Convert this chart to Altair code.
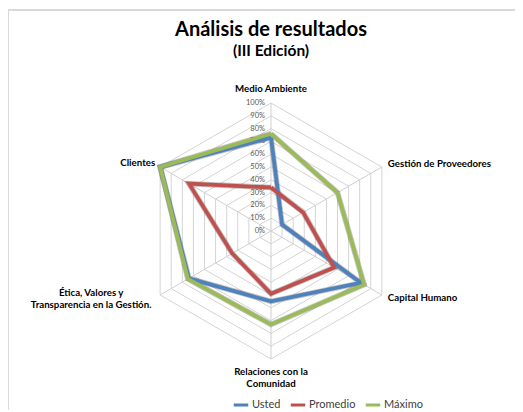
import altair as alt
import pandas as pd

categories = [
    "Medio Ambiente",
    "Gestión de Proveedores",
    "Capital Humano",
    "Relaciones con la\nComunidad",
    "Ética, Valores y\nTransparencia en la Gestión.",
    "Clientes",
]
series_names = ["Usted", "Promedio", "Máximo"]
usted = [0.73, 0.10, 0.81, 0.55, 0.74, 1.00]
promedio = [0.34, 0.29, 0.57, 0.49, 0.35, 0.74]
maximo = [0.76, 0.60, 0.84, 0.73, 0.75, 1.00]
tick_values = [0.0, 0.1, 0.2, 0.3, 0.4, 0.5, 0.6, 0.7, 0.8, 0.9, 1.0]
colors = ["#4F81BD", "#C0504D", "#9BBB59"]

FONT = "Lato"
W, H = 507, 402

rows = []
for name, vals in zip(series_names, [usted, promedio, maximo]):
    for i in range(7):
        rows.append({"serie": name, "idx": i % 6, "ord": i, "value": vals[i % 6]})
series_df = pd.DataFrame(rows)

grid_rows = []
for lv in tick_values[1:]:
    for i in range(7):
        grid_rows.append({"level": lv, "idx": i % 6, "ord": i})
grid_df = pd.DataFrame(grid_rows)

spoke_df = pd.DataFrame({"idx": list(range(6))})
tick_df = pd.DataFrame({"value": tick_values})
label_df = pd.DataFrame({"idx": list(range(6)), "cat": categories})

xs = alt.Scale(domain=[-263 / 128, (W - 263) / 128], nice=False, zero=False)
ys = alt.Scale(domain=[-(H - 223) / 128, 223 / 128], nice=False, zero=False)
X = lambda f: alt.X(f, type="quantitative", scale=xs, axis=None)
Y = lambda f: alt.Y(f, type="quantitative", scale=ys, axis=None)

frame = alt.Chart(pd.DataFrame({"a": [0]})).mark_rect(
    fill="white", stroke="#d9d9d9", strokeWidth=2
).encode(x=alt.value(0), y=alt.value(2), x2=alt.value(W + 10), y2=alt.value(H + 10))

grid = alt.Chart(grid_df).transform_calculate(
    gx="datum.level * sin(datum.idx * PI / 3)",
    gy="datum.level * cos(datum.idx * PI / 3)",
).mark_line(color="#d4d4d4", strokeWidth=1).encode(
    x=X("gx"), y=Y("gy"), detail="level:N", order="ord:Q"
)

spokes = alt.Chart(spoke_df).transform_calculate(
    sx="sin(datum.idx * PI / 3)", sy="cos(datum.idx * PI / 3)", zx="0", zy="0"
).mark_rule(color="#cfcfcf", strokeWidth=1).encode(
    x=X("zx"), y=Y("zy"), x2="sx:Q", y2="sy:Q"
)

ticks = alt.Chart(tick_df).transform_calculate(zx="0").mark_text(
    align="right", baseline="middle", dx=-6, font=FONT, fontSize=7.5, color="#595959"
).encode(x=X("zx"), y=Y("value"), text=alt.Text("value:Q", format=".0%"))

base_series = alt.Chart(series_df).transform_calculate(
    px="datum.value * sin(datum.idx * PI / 3)",
    py="datum.value * cos(datum.idx * PI / 3)",
)

shadow = base_series.mark_line(color="#3a3a3a", strokeWidth=5.5, opacity=0.3).encode(
    x=X("px"), y=Y("py"), detail="serie:N", order="ord:Q"
)

lines = base_series.mark_line(strokeWidth=3.8, strokeJoin="miter").encode(
    x=X("px"),
    y=Y("py"),
    color=alt.Color(
        "serie:N",
        scale=alt.Scale(domain=series_names, range=colors),
        legend=alt.Legend(
            title=None,
            orient="none",
            legendX=224,
            legendY=388,
            direction="horizontal",
            gridAlign="none",
            symbolType="stroke",
            symbolStrokeWidth=3,
            symbolSize=210,
            labelFont=FONT,
            labelFontSize=11,
            labelColor="#404040",
            columnPadding=3,
            labelOffset=2,
            padding=0,
        ),
    ),
    order="ord:Q",
)

lab_base = alt.Chart(label_df).transform_calculate(
    lx="sin(datum.idx * PI / 3)", ly="cos(datum.idx * PI / 3)"
)


def lab(i, align, dx, dy):
    return lab_base.transform_filter(f"datum.idx == {i}").mark_text(
        align=align, baseline="middle", dx=dx, dy=dy, font=FONT, fontSize=9.7,
        fontWeight="bold", color="#000000", lineBreak="\n", lineHeight=12
    ).encode(x=X("lx"), y=Y("ly"), text="cat:N")


labels = [
    lab(0, "center", 0, -14),
    lab(1, "left", 6, -3),
    lab(2, "left", 6, 3),
    lab(3, "center", 0, 13),
    lab(4, "center", -69, -2),
    lab(5, "right", -5, -4),
]

title1 = alt.Chart(pd.DataFrame({"t": ["Análisis de resultados"]})).mark_text(
    font=FONT, fontSize=20, fontWeight="bold", color="#000000", align="center", baseline="middle"
).encode(x=alt.value(263), y=alt.value(22), text="t:N")
title2 = alt.Chart(pd.DataFrame({"t": ["(III Edición)"]})).mark_text(
    font=FONT, fontSize=15.5, fontWeight="bold", color="#000000", align="center", baseline="middle"
).encode(x=alt.value(263), y=alt.value(43), text="t:N")

chart = alt.layer(
    frame, grid, spokes, ticks, shadow, lines, *labels, title1, title2
).properties(
    width=W, height=H, autosize=alt.AutoSizeParams(type="none"), padding=0
).configure_view(stroke=None)

chart.save("out.html", embed_options={"renderer": "svg", "actions": False})
